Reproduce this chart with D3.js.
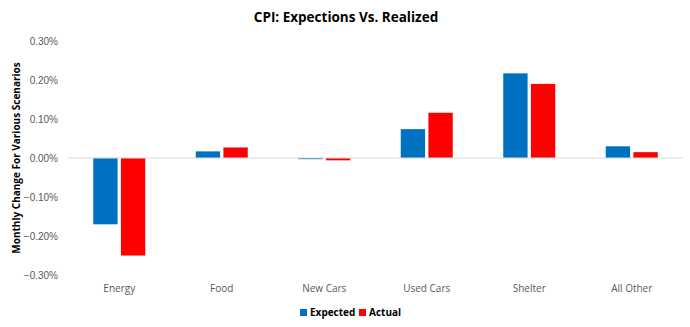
<!DOCTYPE html>
<html>
<head>
<meta charset="utf-8">
<script src="https://cdn.jsdelivr.net/npm/d3@7"></script>
<style>
  body { margin: 0; background: #fff; }
  svg { display: block; font-family: "Open Sans", "Liberation Sans", sans-serif; }
</style>
</head>
<body>
<div id="chart"></div>
<script>
// chart values (percent)
const categories = ["Energy", "Food", "New Cars", "Used Cars", "Shelter", "All Other"];
const seriesNames = ["Expected", "Actual"];
const expected = [-0.17, 0.017, -0.003, 0.074, 0.217, 0.030];
const actual = [-0.25, 0.027, -0.006, 0.116, 0.190, 0.015];
const yTicks = [-0.3, -0.2, -0.1, 0, 0.1, 0.2, 0.3];
const colors = ["#0070C0", "#FF0000"];

const W = 690, H = 327;
const margin = {top: 41, right: 7, bottom: 52, left: 68};
const width = W - margin.left - margin.right;
const height = H - margin.top - margin.bottom;

const rows = categories.map((c, i) => ({cat: c, values: [expected[i], actual[i]]}));

const svg = d3.select("#chart").append("svg")
    .attr("width", W)
    .attr("height", H);

const g = svg.append("g")
    .attr("transform", `translate(${margin.left},${margin.top})`);

const x = d3.scaleBand()
    .domain(categories)
    .range([0, width]);

const x1 = d3.scaleBand()
    .domain(seriesNames)
    .range([0, 52])
    .paddingInner(0.12);

const y = d3.scaleLinear()
    .domain([-0.3, 0.3])
    .range([height, 0]);

// y tick labels (no gridlines)
const yAxis = g.append("g")
    .call(d3.axisLeft(y).tickValues(yTicks).tickSize(0).tickPadding(10)
        .tickFormat(d => d3.format(".2f")(d) + "%"));
yAxis.select(".domain").remove();
yAxis.selectAll("text")
    .attr("fill", "#595959")
    .style("font-size", "10px");

// bars
const groups = g.selectAll(".grp")
    .data(rows)
    .enter().append("g")
    .attr("class", "grp")
    .attr("transform", d => `translate(${x(d.cat) + x.bandwidth() / 2 - 26},0)`);

groups.selectAll("rect")
    .data(d => d.values.map((v, i) => ({key: seriesNames[i], v, i})))
    .enter().append("rect")
    .attr("x", d => x1(d.key))
    .attr("width", x1.bandwidth())
    .attr("y", d => y(Math.max(0, d.v)))
    .attr("height", d => Math.abs(y(d.v) - y(0)))
    .attr("fill", d => colors[d.i]);

// zero line
g.append("line")
    .attr("x1", 0)
    .attr("x2", width)
    .attr("y1", y(0))
    .attr("y2", y(0))
    .attr("stroke", "#D9D9D9")
    .attr("stroke-width", 1);

// category labels
g.selectAll(".cat")
    .data(categories)
    .enter().append("text")
    .attr("x", d => x(d) + x.bandwidth() / 2)
    .attr("y", height + 17)
    .attr("text-anchor", "middle")
    .attr("fill", "#595959")
    .style("font-size", "10px")
    .text(d => d);

// title
svg.append("text")
    .attr("x", 346)
    .attr("y", 22)
    .attr("text-anchor", "middle")
    .style("font-size", "13.5px")
    .style("font-weight", "bold")
    .attr("fill", "#000")
    .text("CPI: Expections Vs. Realized");

// y axis title
svg.append("text")
    .attr("transform", `translate(20, ${margin.top + 117}) rotate(-90)`)
    .attr("text-anchor", "middle")
    .style("font-size", "10px")
    .style("font-weight", "bold")
    .attr("fill", "#000")
    .text("Monthly Change For Various Scenarios");

// legend
const legend = svg.append("g")
    .attr("transform", `translate(300, 315)`);
const legX = [0, 59];
seriesNames.forEach((s, i) => {
    legend.append("rect")
        .attr("x", legX[i])
        .attr("y", -6)
        .attr("width", 7)
        .attr("height", 7)
        .attr("fill", colors[i]);
    legend.append("text")
        .attr("x", legX[i] + 10)
        .attr("y", 1)
        .style("font-size", "10px")
        .style("font-weight", "bold")
        .attr("fill", "#000")
        .text(s);
});
</script>
</body>
</html>
